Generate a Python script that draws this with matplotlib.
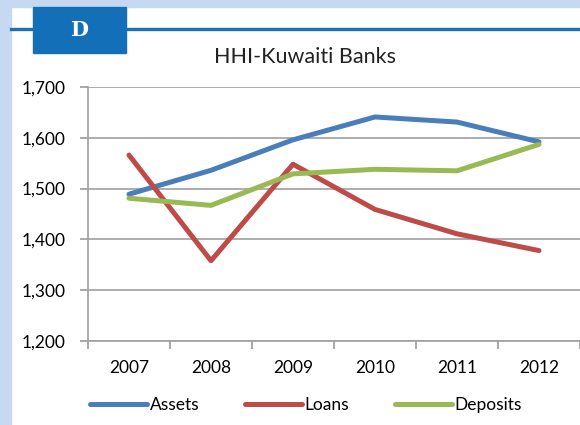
import numpy as np
import matplotlib.pyplot as plt
from matplotlib.patches import Rectangle
from matplotlib.lines import Line2D

years = ['2007', '2008', '2009', '2010', '2011', '2012']
assets = [1489, 1536, 1596, 1641, 1631, 1592]
loans = [1566, 1358, 1548, 1459, 1411, 1378]
deposits = [1481, 1467, 1529, 1538, 1535, 1587]

plt.rcParams['font.family'] = ['Lato', 'DejaVu Sans']

fig = plt.figure(figsize=(5.8, 4.25), dpi=100)
W, H = 580, 425

# light blue frame on the left and top
fig.patches.append(Rectangle((0, 0), 11 / W, 1, transform=fig.transFigure, color='#c6d9f1', zorder=0))
fig.patches.append(Rectangle((0, 1 - 7 / H), 1, 7 / H, transform=fig.transFigure, color='#c6d9f1', zorder=0))
# header rule and label box
fig.add_artist(Line2D([11 / W, 1], [1 - 29 / H] * 2, transform=fig.transFigure, color='#1f6fb4', lw=2.4))
fig.patches.append(Rectangle((33 / W, 1 - 53 / H), 93 / W, 46 / H, transform=fig.transFigure,
                             color='#1370b8', zorder=2))
fig.text(79 / W, 1 - 30 / H, 'D', color='white', fontsize=15, fontweight='bold',
         family='DejaVu Serif', ha='center', va='center', zorder=3)
fig.text(305 / W, 1 - 57 / H, 'HHI-Kuwaiti Banks', fontsize=15.5, color='#222222',
         ha='center', va='center')

ax = fig.add_axes([88 / W, 1 - 341 / H, 1 - 88 / W, 254 / H])
x = np.arange(len(years))
ax.plot(x, assets, color='#4a7ebb', lw=3.6, label='Assets', solid_capstyle='round')
ax.plot(x, loans, color='#be4b48', lw=3.6, label='Loans', solid_capstyle='round')
ax.plot(x, deposits, color='#98b954', lw=3.6, label='Deposits', solid_capstyle='round')

ax.set_xlim(-0.5, 5.5)
ax.set_ylim(1200, 1700)
ax.set_yticks(range(1200, 1701, 100))
ax.set_yticklabels(['{:,}'.format(v) for v in range(1200, 1701, 100)])
ax.set_xticks(x)
ax.set_xticklabels(years)
ax.set_xticks(np.arange(-0.5, 5.6, 1), minor=True)
ax.tick_params(axis='x', which='major', length=0, pad=14, labelsize=12.5)
ax.tick_params(axis='x', which='minor', length=6, color='#999999', width=1.2)
ax.tick_params(axis='y', length=6, color='#999999', width=1.2, pad=10, labelsize=12.5)
ax.grid(axis='y', color='#a0a0a0', lw=1.2)
ax.set_axisbelow(True)
for s in ['top', 'right']:
    ax.spines[s].set_visible(False)
for s in ['left', 'bottom']:
    ax.spines[s].set_color('#a0a0a0')
    ax.spines[s].set_linewidth(1.2)

fig.legend(loc='center', bbox_to_anchor=(306 / W, 1 - 405 / H), ncol=3, frameon=False,
           fontsize=12.5, handlelength=3.3, handletextpad=0.15, columnspacing=2.6)

fig.savefig('out.png', dpi=100)
